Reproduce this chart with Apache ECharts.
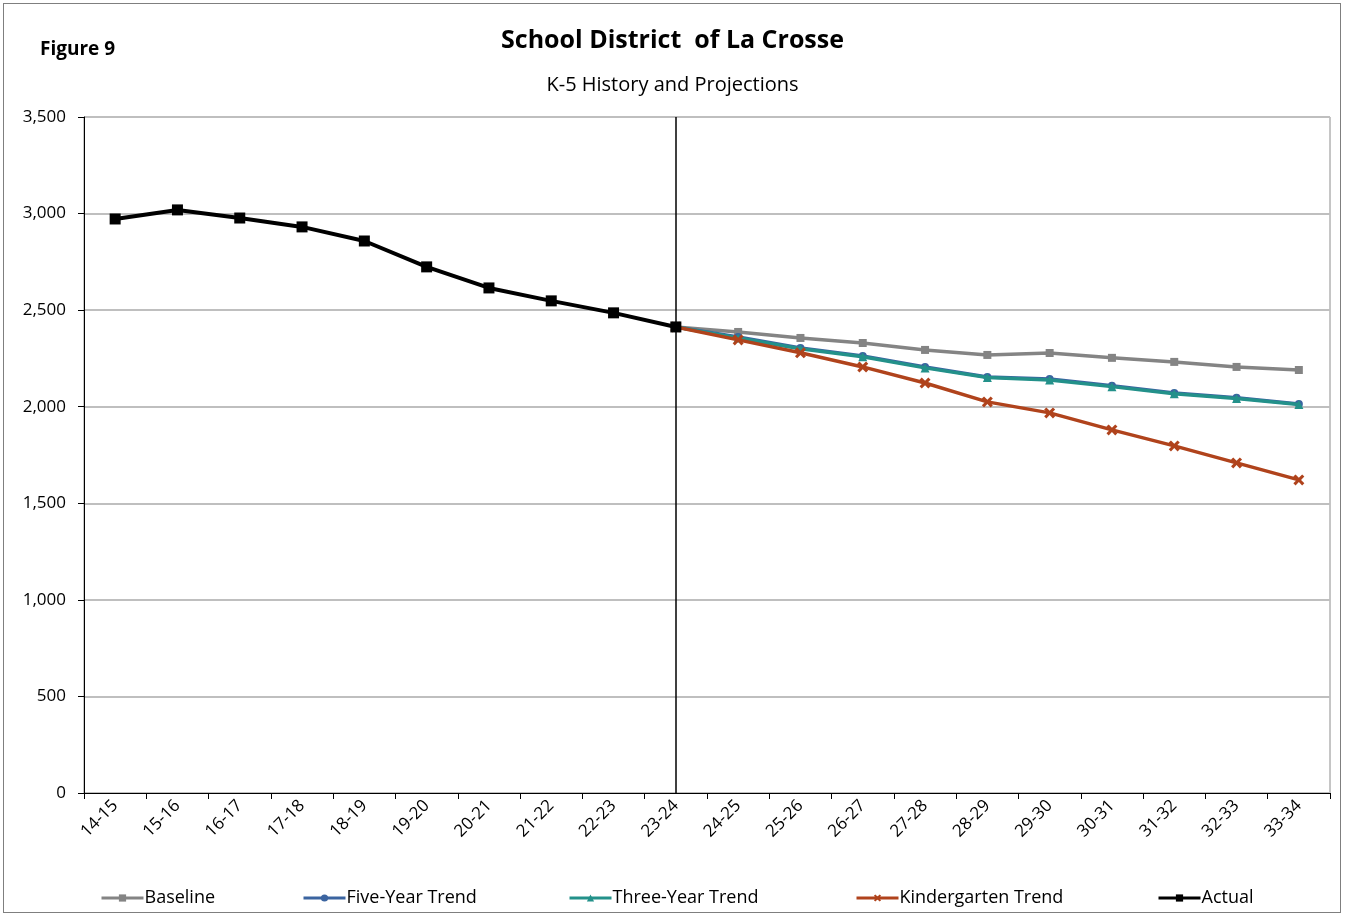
<!DOCTYPE html>
<html>
<head>
<meta charset="utf-8">
<script src="https://cdn.jsdelivr.net/npm/echarts@6/dist/echarts.min.js"></script>
<style>
	html, body { margin: 0; padding: 0; background: #fff; }
	#frame { position: absolute; left: 3px; top: 3px; width: 1336px; height: 908px; border: 1px solid #7f7f7f; }
	#chart { width: 1345px; height: 916px; }
</style>
</head>
<body>
<div id="frame"></div>
<div id="chart"></div>
<script>
	const years = ['14-15', '15-16', '16-17', '17-18', '18-19', '19-20', '20-21', '21-22', '22-23', '23-24',
		'24-25', '25-26', '26-27', '27-28', '28-29', '29-30', '30-31', '31-32', '32-33', '33-34'];
	const yTicks = [0, 500, 1000, 1500, 2000, 2500, 3000, 3500];

	const actual = [2972, 3019, 2977, 2931, 2858, 2724, 2615, 2548, 2486, 2413,
		null, null, null, null, null, null, null, null, null, null];
	const baseline = [null, null, null, null, null, null, null, null, null, 2413,
		2387, 2356, 2330, 2294, 2268, 2278, 2253, 2232, 2206, 2190];
	const fiveYear = [null, null, null, null, null, null, null, null, null, 2413,
		2361, 2304, 2263, 2206, 2154, 2144, 2108, 2071, 2046, 2014];
	const threeYear = [null, null, null, null, null, null, null, null, null, 2413,
		2356, 2300, 2259, 2201, 2151, 2138, 2104, 2067, 2043, 2011];
	const kinder = [null, null, null, null, null, null, null, null, null, 2413,
		2346, 2279, 2206, 2123, 2025, 1968, 1880, 1797, 1709, 1621];

	const FONT = "'Open Sans', sans-serif";
	const xMark = 'path://M0,2 L2,0 L5,3 L8,0 L10,2 L7,5 L10,8 L8,10 L5,7 L2,10 L0,8 L3,5 Z';

	function lineSeries(name, data, color, symbol, size, width, z) {
		return {
			name: name,
			type: 'line',
			data: data,
			symbol: symbol,
			symbolSize: size,
			showSymbol: true,
			connectNulls: false,
			z: z,
			lineStyle: { color: color, width: width },
			itemStyle: { color: color },
			emphasis: { disabled: true },
		};
	}

	function legendAt(name, left) {
		return {
			data: [name],
			left: left - 5,
			top: 884,
			itemWidth: 42,
			itemHeight: 9,
			itemGap: 0,
			lineStyle: { width: 3 },
			textStyle: { fontFamily: FONT, fontSize: 18, color: '#000', padding: [0, 0, 0, -4] },
		};
	}

	let chart = echarts.init(document.getElementById('chart'));
	let option = {
		animation: false,
		backgroundColor: 'transparent',
		title: [
			{
				text: 'School District  of La Crosse',
				left: 'center',
				top: 23,
				textStyle: { fontFamily: FONT, fontSize: 25, fontWeight: 'bold', color: '#000' },
			},
			{
				text: 'K-5 History and Projections',
				left: 'center',
				top: 70,
				textStyle: { fontFamily: FONT, fontSize: 20, fontWeight: 'normal', color: '#000' },
			},
			{
				text: 'Figure 9',
				left: 35,
				top: 35,
				textStyle: { fontFamily: FONT, fontSize: 19, fontWeight: 'bold', color: '#000' },
			},
		],
		legend: [
			legendAt('Baseline', 100),
			legendAt('Five-Year Trend', 302),
			legendAt('Three-Year Trend', 568),
			legendAt('Kindergarten Trend', 855),
			legendAt('Actual', 1157),
		],
		grid: {
			left: 84,
			right: 15,
			top: 117,
			bottom: 123,
			show: true,
			borderColor: '#8c8c8c',
			borderWidth: 1,
		},
		xAxis: {
			type: 'category',
			data: years,
			boundaryGap: true,
			axisLine: { lineStyle: { color: '#000', width: 1 } },
			axisTick: { show: true, length: 6, lineStyle: { color: '#000' } },
			axisLabel: {
				rotate: 45,
				interval: 0,
				margin: 10,
				fontFamily: FONT,
				fontSize: 17,
				color: '#000',
			},
		},
		yAxis: {
			type: 'value',
			min: yTicks[0],
			max: yTicks[yTicks.length - 1],
			interval: 500,
			axisLine: { show: true, lineStyle: { color: '#000', width: 1 } },
			axisTick: { show: true, length: 6, lineStyle: { color: '#000' } },
			splitLine: { lineStyle: { color: '#bfbfbf', width: 2 } },
			axisLabel: {
				margin: 18,
				fontFamily: FONT,
				fontSize: 17,
				color: '#000',
				formatter: (v) => v.toLocaleString('en-US'),
			},
		},
		series: [
			lineSeries('Baseline', baseline, '#848484', 'rect', 8, 3.5, 2),
			lineSeries('Five-Year Trend', fiveYear, '#3b64a0', 'circle', 8, 3.5, 3),
			lineSeries('Three-Year Trend', threeYear, '#23918a', 'triangle', 9, 3.5, 4),
			lineSeries('Kindergarten Trend', kinder, '#b0431c', xMark, 11, 3.5, 5),
			Object.assign(lineSeries('Actual', actual, '#000000', 'rect', 11, 4, 6), {
				markLine: {
					silent: true,
					symbol: 'none',
					label: { show: false },
					lineStyle: { color: '#000', width: 1.5, type: 'solid' },
					data: [{ xAxis: '23-24' }],
				},
			}),
		],
	};
	option && chart.setOption(option);
</script>
</body>
</html>
